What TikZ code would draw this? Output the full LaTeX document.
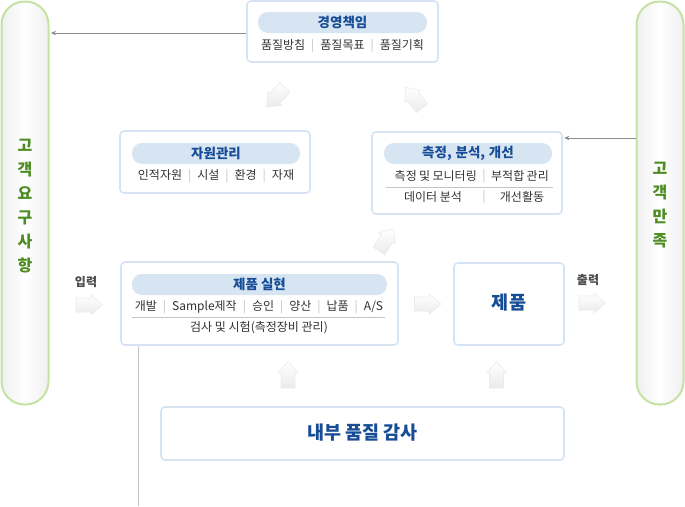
\documentclass[tikz,border=0pt]{standalone}
\usepackage{fontspec}
\setmainfont{Noto Sans CJK KR}
\usetikzlibrary{arrows.meta}
\definecolor{boxline}{HTML}{D5E3F3}
\definecolor{hdrfill}{HTML}{D7E5F3}
\definecolor{hdrtext}{HTML}{174D96}
\definecolor{pillline}{HTML}{C5E2A3}
\definecolor{pilltext}{HTML}{4C8C22}
\definecolor{bodytext}{HTML}{333333}
\definecolor{sepc}{HTML}{C4C4C4}
\definecolor{thinc}{HTML}{8C8C8C}
\definecolor{labc}{HTML}{4A4A4A}
\newcommand{\vbar}{\hspace{0.5em}{\color{sepc}|}\hspace{0.5em}}
\newcommand{\nsp}{\hspace{0.2em}}
\tikzset{
  box/.style={draw=boxline, line width=1.6pt, rounded corners=4pt, fill=white, inner sep=0pt},
  hdr/.style={fill=hdrfill, rounded corners=10pt, text=hdrtext, font=\fontsize{13.5}{15}\selectfont\bfseries, inner sep=0pt},
  sub/.style={text=bodytext, font=\fontsize{12}{14}\selectfont, inner sep=0pt},
  pill/.style={draw=pillline, line width=2pt, rounded corners=23pt, left color=gray!12, right color=gray!12, middle color=white, inner sep=0pt},
  pilllabel/.style={text=pilltext, font=\fontsize{16}{24}\selectfont\bfseries, align=center, inner sep=0pt},
  big/.style={text=hdrtext, font=\fontsize{18.5}{21}\selectfont\bfseries, inner sep=0pt},
  lab/.style={text=labc, font=\fontsize{12}{14}\selectfont\bfseries, inner sep=0pt},
  thinarrow/.style={draw=thinc, line width=0.7pt, -{Stealth[length=5pt,width=4.5pt]}},
  thinline/.style={draw=sepc, line width=0.8pt},
  blockarrow/.style={draw=gray!16, line width=0.6pt, top color=white, bottom color=gray!16},
  barrow/.pic={\path[blockarrow] (-13,-7) -- (2,-7) -- (2,-10) -- (13.5,0) -- (2,10) -- (2,7) -- (-13,7) -- cycle;}
}
\begin{document}
\begin{tikzpicture}[x=1pt,y=-1pt]
\useasboundingbox (0,0) rectangle (685,506);
% side pills
\node[pill, minimum width=47pt, minimum height=403pt] (lpill) at (25,203) {};
\node[pilllabel] (ltext) at (25,206) {고\\객\\요\\구\\사\\항};
\node[pill, minimum width=47pt, minimum height=403pt] (rpill) at (660,203) {};
\node[pilllabel] (rtext) at (660,205) {고\\객\\만\\족};
% management
\node[box, minimum width=191pt, minimum height=61pt] (mgmt) at (342.5,31.5) {};
\node[hdr, minimum width=169pt, minimum height=21pt] (mgmtH) at (342.5,22.5) {경영책임};
\node[sub] (mgmtS) at (342.5,46) {품질방침\vbar 품질목표\vbar 품질기획};
% resources
\node[box, minimum width=190pt, minimum height=62pt] (res) at (215,162) {};
\node[hdr, minimum width=168pt, minimum height=21pt] (resH) at (216,153.5) {자원관리};
\node[sub] (resS) at (216,176) {인적자원\vbar 시설\vbar 환경\vbar 자재};
% measurement
\node[box, minimum width=190pt, minimum height=82pt] (meas) at (467,173) {};
\node[hdr, minimum width=168pt, minimum height=21pt] (measH) at (468,153.5) {측정,\hspace{0.28em}분석,\hspace{0.28em}개선};
\node[sub, anchor=east] (measA) at (477,176) {측정\nsp 및\nsp 모니터링};
\node[sub] (measSep1) at (484,176) {\color{sepc}|};
\node[sub, anchor=west] (measB) at (491,176) {부적합\nsp 관리};
\draw[thinline] (386,187) -- (553,187);
\node[sub] (measC) at (433,197) {데이터 분석};
\node[sub] (measSep2) at (484,197) {\color{sepc}|};
\node[sub] (measD) at (522,197) {개선활동};
% realization
\node[box, minimum width=277pt, minimum height=83pt] (real) at (259.5,303.5) {};
\node[hdr, minimum width=255pt, minimum height=21pt] (realH) at (259.5,284.5) {제품 실현};
\node[sub] (realA) at (259,307) {개발\vbar Sample제작\vbar 승인\vbar 양산\vbar 납품\vbar A/S};
\draw[thinline] (132,317.5) -- (385,317.5);
\node[sub] (realB) at (259,328) {검사 및 시험(측정장비 관리)};
% product
\node[box, minimum width=110pt, minimum height=82pt] (prod) at (509,304) {};
\node[big] (prodT) at (509,303) {제품};
% audit
\node[box, minimum width=403pt, minimum height=53pt] (audit) at (362.5,433.5) {};
\node[big] (auditT) at (362.5,433) {내부 품질 감사};
% labels
\node[lab] (inlab) at (86,282) {입력};
\node[lab] (outlab) at (588,280) {출력};
% thin connectors
\coordinate (ya) at (0,33);
\coordinate (yb) at (0,138);
\draw[thinarrow, shorten >=1.5pt] (mgmt.west |- ya) -- (lpill.east |- ya);
\draw[thinarrow, shorten >=1.5pt] (rpill.west |- yb) -- (meas.east |- yb);
\coordinate (vend) at (138,506);
\draw[thinline] (real.south -| vend) -- (vend);
% block arrows
\pic at (89,305) {barrow};
\pic at (427.5,304) {barrow};
\pic at (592,303) {barrow};
\pic[rotate=90] at (288,375) {barrow};
\pic[rotate=90] at (496.5,375) {barrow};
\pic[rotate=-133] at (276,97) {barrow};
\pic[rotate=128] at (414,98) {barrow};
\pic[rotate=57] at (386,240) {barrow};
\end{tikzpicture}
\end{document}
